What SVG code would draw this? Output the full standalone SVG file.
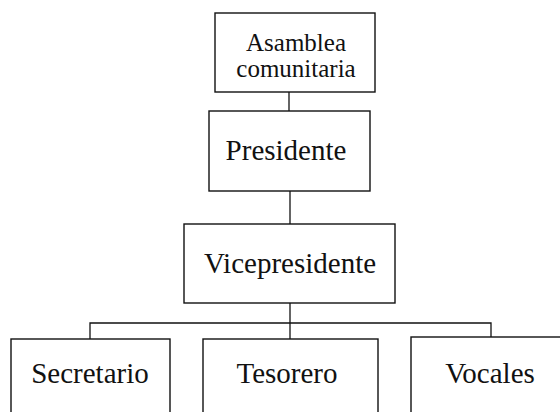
<svg xmlns="http://www.w3.org/2000/svg" width="560" height="412" viewBox="0 0 560 412">
<style>
.box{fill:#fff;stroke:#111;stroke-width:1.4}
.ln{fill:none;stroke:#111;stroke-width:1.3}
text{fill:#111;text-anchor:middle}
.t{font-size:29px}
.s{font-size:25px}
</style>
<rect width="560" height="412" fill="#fff"/>
<g id="connectors">
<line class="ln" x1="289" y1="92" x2="289" y2="111"/>
<line class="ln" x1="290" y1="191" x2="290" y2="224"/>
<line class="ln" x1="290" y1="303" x2="290" y2="339"/>
<polyline class="ln" points="90,339 90,323 491,323 491,337"/>
</g>
<g font-family="'Liberation Serif', serif">
<g id="asamblea">
<rect class="box" x="215" y="13" width="160" height="79"/>
<text class="s" x="296" y="51">Asamblea</text>
<text class="s" x="296" y="77">comunitaria</text>
</g>
<g id="presidente">
<rect class="box" x="209" y="111" width="161" height="80"/>
<text class="t" x="286" y="160">Presidente</text>
</g>
<g id="vicepresidente">
<rect class="box" x="184" y="224" width="211" height="79"/>
<text class="t" x="290" y="273">Vicepresidente</text>
</g>
<g id="secretario">
<rect class="box" x="11" y="339" width="159" height="90"/>
<text class="t" x="90" y="383">Secretario</text>
</g>
<g id="tesorero">
<rect class="box" x="203" y="339" width="175" height="90"/>
<text class="t" x="287" y="383">Tesorero</text>
</g>
<g id="vocales">
<rect class="box" x="411" y="337" width="170" height="90"/>
<text class="t" x="490" y="383">Vocales</text>
</g>
</g>
</svg>
